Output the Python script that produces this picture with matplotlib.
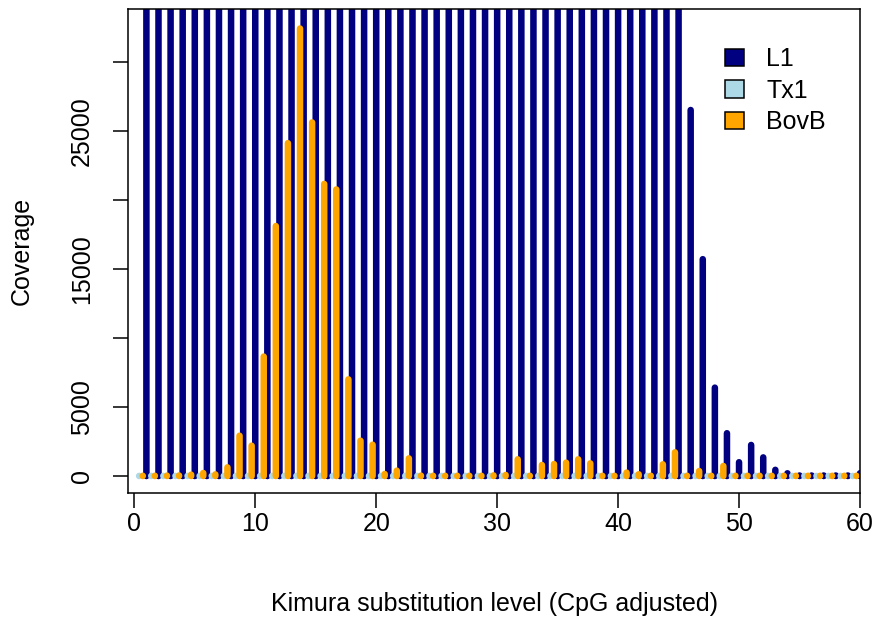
import numpy as np
import matplotlib.pyplot as plt
from matplotlib.patches import Patch

OUTPUT_FILE = "out.png"

plt.rcParams['font.family'] = ['Liberation Sans', 'DejaVu Sans']

# Kimura substitution level bins (1..60)
kimura = np.arange(1, 61)

# L1 coverage: bins 1-45 run off the top of the plot, values there are rough guesses
l1 = [52000, 58000, 61000, 63000, 66000, 68000, 70000, 72000, 74000, 76000,
      78000, 80000, 82000, 83000, 84000, 85000, 86000, 86000, 85000, 84000,
      83000, 82000, 80000, 78000, 76000, 74000, 72000, 70000, 68000, 66000,
      64000, 62000, 60000, 58000, 56000, 54000, 52000, 50000, 48000, 46000,
      44000, 42000, 40000, 38000, 36000, 26500, 15700, 6400, 3100, 1000,
      2250, 1350, 450, 200, 40, 40, 40, 40, 40, 200]

# Tx1 coverage: barely above zero everywhere
tx1 = [10] * 60

# BovB coverage
bovb = [20, 20, 30, 40, 100, 220, 120, 630, 2920, 2200,
        8650, 18100, 24100, 32400, 25600, 21150, 20750, 7000, 2560, 2270,
        150, 390, 1280, 30, 20, 20, 20, 20, 20, 50,
        80, 1210, 20, 800, 870, 970, 1210, 920, 20, 20,
        250, 130, 20, 850, 1720, 20, 360, 20, 730, 20,
        20, 20, 20, 20, 20, 20, 20, 20, 20, 20]

series = [
    ('L1', l1, 0.0, '#000080'),
    ('Tx1', tx1, -0.6, '#ADD8E6'),
    ('BovB', bovb, -0.3, '#FFA500'),
]

W, H = 879, 620
fig = plt.figure(figsize=(W / 100, H / 100), dpi=100)
left, right, top, bottom = 128.5, 860.0, 9.3, 493.3
ax = fig.add_axes([left / W, 1 - bottom / H, (right - left) / W, (bottom - top) / H])

# type="h" style: one vertical stroke per bin, round ends
for name, vals, off, col in series:
    for x, v in zip(kimura + off, vals):
        ax.plot([x, x], [0, v], color=col, linewidth=4.7,
                solid_capstyle='round', snap=False)

ax.set_xlim(-0.48, 60.0)
ax.set_ylim(-1250, 33790)

ax.set_xticks(np.arange(0, 61, 10))
ax.set_yticks(np.arange(0, 30001, 5000))
ax.set_yticklabels(['0', '5000', '', '15000', '', '25000', ''], rotation=90, va='center')

for s in ax.spines.values():
    s.set_linewidth(1.1)
ax.tick_params(axis='both', length=10.8, width=1.1, labelsize=18, color='black')
ax.tick_params(axis='x', pad=3)
ax.tick_params(axis='y', pad=14)

ax.set_xlabel('Kimura substitution level (CpG adjusted)', fontsize=18, labelpad=40)
ax.set_ylabel('Coverage', fontsize=18, labelpad=26)

handles = [Patch(facecolor=col, edgecolor='black', linewidth=1.1, label=name)
           for name, vals, off, col in series]
ax.legend(handles=handles, loc='upper left', bbox_to_anchor=(0.8155, 0.922),
          frameon=False, fontsize=18, borderpad=0, borderaxespad=0,
          handlelength=0.75, handleheight=0.7, handletextpad=0.9, labelspacing=0.3)

fig.savefig(OUTPUT_FILE, dpi=100)
